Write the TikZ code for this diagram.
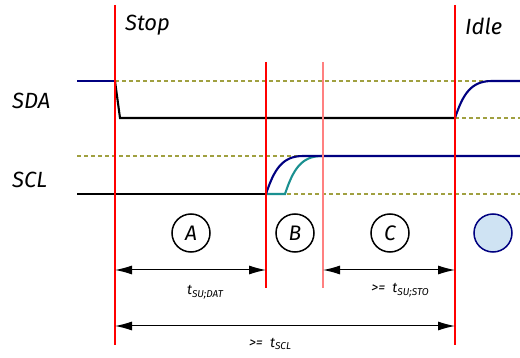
\documentclass[tikz,border=0pt]{standalone}
\usepackage{fontspec}
\setmainfont{Fira Sans}
\usetikzlibrary{arrows.meta}
\definecolor{navy}{HTML}{000080}
\definecolor{tealc}{HTML}{1A9090}
\definecolor{olivedash}{HTML}{A0A040}
\definecolor{pinkred}{HTML}{FF8080}
\definecolor{lightb}{HTML}{CFE3F3}
\newcommand{\subtxt}[1]{\raisebox{-2.5pt}{\fontsize{10}{10}\selectfont #1}}
\tikzset{
  sig/.style={line width=2.1pt},
  lvl/.style={olivedash, line width=1.1pt, dash pattern=on 4pt off 3pt},
  marker/.style={red, line width=1.4pt},
  softmarker/.style={pinkred, line width=1.4pt},
  dim/.style={line width=1pt, {Latex[length=17pt,width=9pt]}-{Latex[length=17pt,width=9pt]}},
  phase/.style={circle, draw, line width=1.5pt, minimum size=38pt, inner sep=0pt, font=\itshape\fontsize{21}{21}\selectfont},
  big/.style={font=\itshape\fontsize{22}{22}\selectfont, inner sep=0pt},
  small/.style={font=\itshape\fontsize{14}{14}\selectfont, inner sep=0pt}
}
\begin{document}
\begin{tikzpicture}[x=1pt,y=-1pt]
\useasboundingbox (0,0) rectangle (520,358);
% marker coordinates
\coordinate (m1t) at (115,5);   \coordinate (m1b) at (115,345);
\coordinate (m2t) at (266,62);  \coordinate (m2b) at (266,288);
\coordinate (m3t) at (323,62);  \coordinate (m3b) at (323,288);
\coordinate (m4t) at (455,5);   \coordinate (m4b) at (455,345);
% dashed levels
\draw[lvl] (115,81) -- (520,81);
\draw[lvl] (455,118) -- (520,118);
\draw[lvl] (77,156) -- (323,156);
\draw[lvl] (266,194) -- (520,194);
% SDA
\draw[sig, navy] (77,81) -- (115,81);
\draw[sig] (115,81) -- (120,118) -- (455,118);
\draw[sig, navy] (455,118) .. controls (463,94) and (471,81) .. (492,81) -- (520,81);
% SCL
\draw[sig] (77,194) -- (266,194);
\draw[sig, tealc] (266,194) -- (285,194) .. controls (293,170) and (301,156) .. (322,156);
\draw[sig, navy] (266,194) .. controls (274,170) and (282,156) .. (303,156) -- (520,156);
% markers
\draw[marker] (m1t) -- (m1b);
\draw[marker] (m2t) -- (m2b);
\draw[softmarker] (m3t) -- (m3b);
\draw[marker] (m4t) -- (m4b);
% labels
\node[big, anchor=west] (stop) at (125,25) {Stop};
\node[big, anchor=west] (idle) at (465,26) {Idle};
\node[big, anchor=west] (sda) at (12,101) {SDA};
\node[big, anchor=west] (scl) at (12,180) {SCL};
% phases
\node[phase] (A) at (191,233) {A};
\node[phase] (B) at (295,233) {B};
\node[phase] (C) at (390,233) {C};
\node[phase, draw=navy, fill=lightb] (D) at (493,233) {};
% dimensions
\coordinate (d1a) at (115,270); \coordinate (d1b) at (266,270);
\coordinate (d2a) at (323,270); \coordinate (d2b) at (455,270);
\coordinate (d3a) at (115,326); \coordinate (d3b) at (455,326);
\draw[dim] (d1a) -- (d1b);
\draw[dim] (d2a) -- (d2b);
\draw[dim] (d3a) -- (d3b);
\node[small] (l1) at (205,292) {t\subtxt{SU;DAT}};
\node[small] (l2) at (400,290) {>=\ \ t\subtxt{SU;STO}};
\node[small] (l3) at (270,344) {>=\ \ t\subtxt{SCL}};
\end{tikzpicture}
\end{document}
